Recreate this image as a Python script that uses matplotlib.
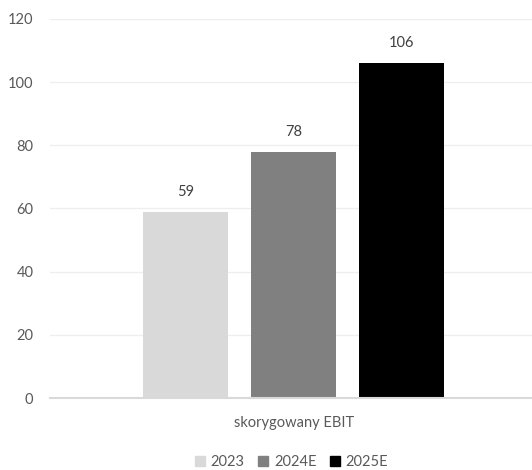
import matplotlib
matplotlib.use("Agg")
import matplotlib.pyplot as plt
from matplotlib.patches import Patch

plt.rcParams['font.family'] = ['Lato', 'DejaVu Sans']

category = "skorygowany EBIT"
series = ["2023", "2024E", "2025E"]
values = [59, 78, 106]
colors = ["#d9d9d9", "#808080", "#000000"]

fig = plt.figure(figsize=(5.32, 4.70), dpi=100)
ax = fig.add_axes([0.094, 0.153, 0.906, 0.807])

xs = [-1, 0, 1]
bars = ax.bar(xs, values, width=0.79, color=colors, zorder=3)
for x, v in zip(xs, values):
    ax.text(x, v + 4.0, str(v), ha='center', va='bottom', fontsize=10.5, color='#404040')

ax.set_ylim(0, 120)
ax.set_xlim(-2.26, 2.21)
ax.set_yticks(range(0, 121, 20))
ax.yaxis.grid(True, color='#eeeeee', linewidth=0.9, zorder=0)
ax.set_xticks([0])
ax.set_xticklabels([category])
ax.tick_params(axis='both', length=0, labelsize=10.5, labelcolor='#595959')
ax.tick_params(axis='x', pad=13)
ax.tick_params(axis='y', pad=12)
for s in ['top', 'right', 'left']:
    ax.spines[s].set_visible(False)
ax.spines['bottom'].set_color('#d9d9d9')
ax.spines['bottom'].set_linewidth(1.5)
ax.spines['bottom'].set_zorder(4)

handles = [Patch(color=c, label=s) for c, s in zip(colors, series)]
fig.legend(handles=handles, loc='center', bbox_to_anchor=(0.548, 0.017), ncol=3,
           frameon=False, fontsize=10.5, labelcolor='#595959', handlelength=0.7,
           handleheight=0.7, handletextpad=0.4, columnspacing=0.9)

fig.savefig("out.png", dpi=100)
